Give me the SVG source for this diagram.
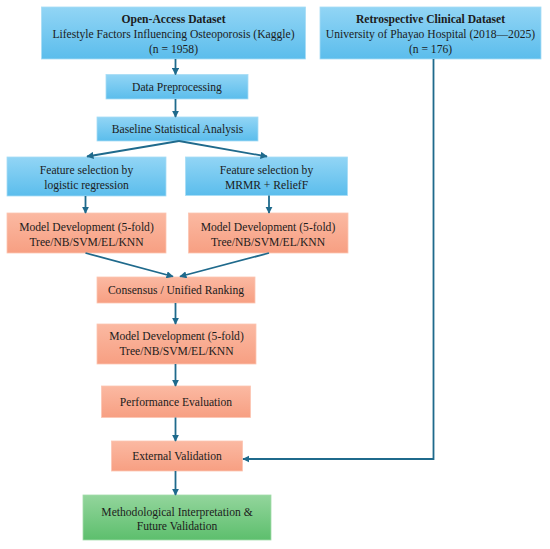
<svg xmlns="http://www.w3.org/2000/svg" width="550" height="549" viewBox="0 0 550 549">
<defs>
<linearGradient id="gBlue" x1="0" y1="0" x2="0" y2="1">
<stop offset="0" stop-color="#92d5f5"/>
<stop offset="1" stop-color="#5bbdec"/>
</linearGradient>
<linearGradient id="gSalmon" x1="0" y1="0" x2="0" y2="1">
<stop offset="0" stop-color="#fbb9a2"/>
<stop offset="1" stop-color="#f79f82"/>
</linearGradient>
<linearGradient id="gGreen" x1="0" y1="0" x2="0" y2="1">
<stop offset="0" stop-color="#93d59c"/>
<stop offset="1" stop-color="#5dbf6d"/>
</linearGradient>
<marker id="arr" viewBox="0 0 10 10" refX="9" refY="5" markerWidth="4" markerHeight="4" orient="auto" markerUnits="strokeWidth">
<path d="M0,0 L10,5 L0,10 z" fill="#1f6a8c"/>
</marker>
<style>
.blue{fill:url(#gBlue);stroke:#a7ddf6;stroke-width:0.8}
.salmon{fill:url(#gSalmon);stroke:#fcc5b2;stroke-width:0.8}
.green{fill:url(#gGreen);stroke:#a3dcab;stroke-width:0.8}
text{font-family:"Liberation Serif","Times New Roman",serif;font-size:11.6px;fill:#1c1c1c;text-anchor:middle}
.b{font-weight:bold}
.conn path{fill:none;stroke:#1f6a8c;stroke-width:1.8;marker-end:url(#arr)}
</style>
</defs>
<g id="open-access">
<rect class="blue" x="41.5" y="7" width="264" height="52"/>
<text class="b" x="173.5" y="23">Open-Access Dataset</text>
<text x="173.5" y="38">Lifestyle Factors Influencing Osteoporosis (Kaggle)</text>
<text x="173.5" y="52.5">(n = 1958)</text>
</g>
<g id="retrospective">
<rect class="blue" x="320" y="7" width="221" height="52"/>
<text class="b" x="430.5" y="23">Retrospective Clinical Dataset</text>
<text x="430.5" y="38">University of Phayao Hospital (2018—2025)</text>
<text x="430.5" y="52.5">(n = 176)</text>
</g>
<g id="preprocessing">
<rect class="blue" x="106" y="74.5" width="142" height="24.5"/>
<text x="177" y="90.8">Data Preprocessing</text>
</g>
<g id="baseline">
<rect class="blue" x="97" y="117" width="161" height="24"/>
<text x="177.5" y="133">Baseline Statistical Analysis</text>
</g>
<g id="fs-lr">
<rect class="blue" x="7" y="157" width="159" height="39"/>
<text x="86.5" y="173.5">Feature selection by</text>
<text x="86.5" y="188.5">logistic regression</text>
</g>
<g id="fs-mrmr">
<rect class="blue" x="185.5" y="157" width="162" height="38.5"/>
<text x="266.5" y="173.5">Feature selection by</text>
<text x="266.5" y="188.5">MRMR + ReliefF</text>
</g>
<g id="md-left">
<rect class="salmon" x="7" y="213" width="159" height="40"/>
<text x="86.5" y="230.5">Model Development (5-fold)</text>
<text x="86.5" y="245.5">Tree/NB/SVM/EL/KNN</text>
</g>
<g id="md-right">
<rect class="salmon" x="188.5" y="213" width="159.5" height="40"/>
<text x="268" y="230.5">Model Development (5-fold)</text>
<text x="268" y="245.5">Tree/NB/SVM/EL/KNN</text>
</g>
<g id="consensus">
<rect class="salmon" x="97" y="277" width="158" height="26"/>
<text x="176" y="294">Consensus / Unified Ranking</text>
</g>
<g id="md-center">
<rect class="salmon" x="97" y="324" width="159" height="40"/>
<text x="176.5" y="340">Model Development (5-fold)</text>
<text x="176.5" y="355">Tree/NB/SVM/EL/KNN</text>
</g>
<g id="performance">
<rect class="salmon" x="101.5" y="386" width="149" height="31.5"/>
<text x="176" y="405.5">Performance Evaluation</text>
</g>
<g id="external">
<rect class="salmon" x="111.5" y="441" width="131" height="30"/>
<text x="177" y="460">External Validation</text>
</g>
<g id="interpretation">
<rect class="green" x="83" y="495" width="188" height="45"/>
<text x="177" y="515.5">Methodological Interpretation &amp;</text>
<text x="177" y="529.5">Future Validation</text>
</g>
<g class="conn" id="connectors">
<path d="M175.5,59 L175.5,74.5"/>
<path d="M175.5,99 L175.5,117"/>
<path d="M179,141 L87,156.5"/>
<path d="M179,141 L267,156.5"/>
<path d="M85.5,196 L85.5,213"/>
<path d="M269,195.5 L269,213"/>
<path d="M85.5,253 L173,276.5"/>
<path d="M269,253 L180,276.5"/>
<path d="M175.5,303 L175.5,324"/>
<path d="M175.5,364 L175.5,386"/>
<path d="M175.5,417.5 L175.5,441"/>
<path d="M175.5,471 L175.5,495"/>
<path d="M433.5,59 L433.5,459 L243,459"/>
</g>
</svg>
